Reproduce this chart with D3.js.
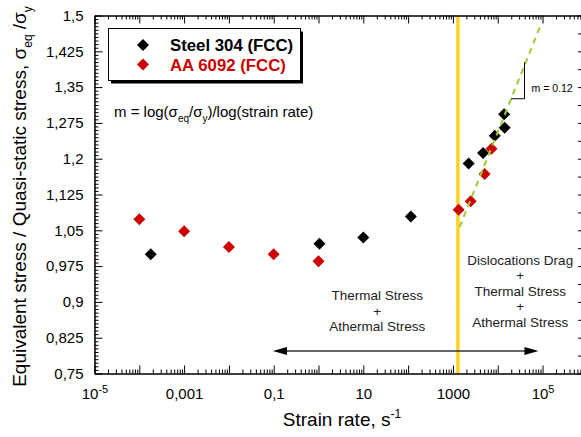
<!DOCTYPE html>
<html><head><meta charset="utf-8">
<script src="https://cdn.jsdelivr.net/npm/d3@7"></script>
<style>
body{margin:0;background:#fff}
svg{display:block;font-family:"Liberation Sans",Arial,sans-serif}
</style></head>
<body><svg id="c" width="581" height="437"></svg>
<script>
// ---- data ----
const steelRate  = [1.8e-4, 1.05, 10, 115, 2240, 4700, 8570, 13900, 14300];
const steelRatio = [1.000, 1.022, 1.035, 1.079, 1.190, 1.212, 1.248, 1.293, 1.265];
const alRate  = [1e-4, 1e-3, 1e-2, 0.1, 1, 1340, 2490, 5100, 7250];
const alRatio = [1.073, 1.048, 1.015, 1.000, 0.985, 1.093, 1.111, 1.168, 1.221];
const fitRate  = [1410, 87000];
const fitRatio = [1.0565, 1.4755];
const transitionRate = 1290;
const yTickValues = [0.75, 0.825, 0.9, 0.975, 1.05, 1.125, 1.2, 1.275, 1.35, 1.425, 1.5];
const xTickValues = [1e-5, 1e-3, 1e-1, 10, 1000, 1e5];
const xTickLabels = ["10|-5", "0,001", "0,1", "10", "1000", "10|5"];
const seriesNames = ["Steel 304 (FCC)", "AA 6092 (FCC)"];
const seriesColors = ["#000000", "#CC0000"];

// ---- layout ----
const L = 94.5, R = 582, T = 15.5, B = 373.5;
const svg = d3.select("#c");
const x = d3.scaleLog().domain([1e-5, 7.6e5]).range([L, R]);
const y = d3.scaleLinear().domain([0.75, 1.5]).range([B, T]);

// minor tick positions
const xMajor = d3.range(-5, 6).map(e => Math.pow(10, e));
const xMinor = [];
for (let e = -5; e <= 5; e++) for (let m = 2; m <= 9; m++) { const v = m * Math.pow(10, e); if (v <= 7.6e5) xMinor.push(v); }
const yMinor = d3.range(0, 101).map(i => 0.75 + i * 0.0075).filter((v, i) => i % 10 !== 0);

// yellow transition line
svg.append("line")
  .attr("x1", x(transitionRate)).attr("x2", x(transitionRate))
  .attr("y1", T).attr("y2", B)
  .attr("stroke", "#FFD21F").attr("stroke-width", 3.5);

// axes
const fmtY = v => String(+v.toFixed(3)).replace(".", ",");
const gB = svg.append("g").attr("transform", `translate(0,${B})`)
  .call(d3.axisBottom(x).tickValues(xMajor).tickSizeInner(-8).tickSizeOuter(0).tickPadding(15)
    .tickFormat(d => { const i = xTickValues.findIndex(v => Math.abs(Math.log10(v) - Math.log10(d)) < 1e-6); return i >= 0 ? xTickLabels[i] : ""; }));
svg.append("g").attr("transform", `translate(0,${B})`)
  .call(d3.axisBottom(x).tickValues(xMinor).tickSizeInner(-4).tickSizeOuter(0).tickFormat(""));
svg.append("g").attr("transform", `translate(0,${T})`)
  .call(d3.axisTop(x).tickValues(xMajor).tickSizeInner(-8).tickSizeOuter(0).tickFormat(""));
svg.append("g").attr("transform", `translate(0,${T})`)
  .call(d3.axisTop(x).tickValues(xMinor).tickSizeInner(-4).tickSizeOuter(0).tickFormat(""));
svg.append("g").attr("transform", `translate(${L},0)`)
  .call(d3.axisLeft(y).tickValues(yTickValues).tickSizeInner(-8).tickSizeOuter(0).tickPadding(11).tickFormat(fmtY));
svg.append("g").attr("transform", `translate(${L},0)`)
  .call(d3.axisLeft(y).tickValues(yMinor).tickSizeInner(-4).tickSizeOuter(0).tickFormat(""));
svg.append("g").attr("transform", `translate(${R},0)`)
  .call(d3.axisRight(y).tickValues(d3.range(0, 21).map(i => 0.75 + i * 0.0375)).tickSizeInner(-4).tickSizeOuter(0).tickFormat(""));

svg.selectAll(".tick text").attr("font-family", "Liberation Sans, Arial, sans-serif").attr("font-size", 15).attr("fill", "#000");
svg.selectAll(".domain, .tick line").attr("stroke", "#000").attr("stroke-width", 1);

// superscript x labels
gB.selectAll(".tick text").each(function() {
  const t = d3.select(this), s = t.text();
  if (s.includes("|")) {
    const [b, e] = s.split("|");
    t.text(null);
    t.append("tspan").text(b);
    t.append("tspan").attr("dy", "-0.55em").attr("font-size", 11).text(e);
  }
});

// points
const diamond = d3.symbol(d3.symbolSquare, 72);
const steel = steelRate.map((r, i) => [r, steelRatio[i]]);
const al = alRate.map((r, i) => [r, alRatio[i]]);
svg.append("g").selectAll("path").data(steel).join("path")
  .attr("d", diamond).attr("fill", seriesColors[0])
  .attr("transform", d => `translate(${x(d[0])},${y(d[1])}) rotate(45)`);
svg.append("g").selectAll("path").data(al).join("path")
  .attr("d", diamond).attr("fill", seriesColors[1])
  .attr("transform", d => `translate(${x(d[0])},${y(d[1])}) rotate(45)`);

// fit line
svg.append("path")
  .datum(fitRate.map((r, i) => [r, fitRatio[i]]))
  .attr("d", d3.line().x(d => x(d[0])).y(d => y(d[1])))
  .attr("fill", "none").attr("stroke", "#9ACD32").attr("stroke-width", 2).attr("stroke-dasharray", "6,5");

// slope triangle
svg.append("path")
  .attr("d", `M${x(19700)},${y(1.3256)}H${x(39600)}V${y(1.402)}`)
  .attr("fill", "none").attr("stroke", "#000").attr("stroke-width", 1);
svg.append("text").attr("x", x(39600) + 7).attr("y", y(1.3256) - 7)
  .attr("font-size", 10.5).text("m = 0.12");

// legend
const lg = svg.append("g");
lg.append("rect").attr("x", 111).attr("y", 31.5).attr("width", 192).attr("height", 52).attr("fill", "#000");
lg.append("rect").attr("x", 108.5).attr("y", 28.5).attr("width", 192).attr("height", 52).attr("fill", "#fff").attr("stroke", "#000");
seriesNames.forEach((n, i) => {
  lg.append("path").attr("d", diamond).attr("fill", seriesColors[i])
    .attr("transform", `translate(143,${45 + i * 19.5}) rotate(45)`);
  lg.append("text").attr("x", 170).attr("y", 51 + i * 19.5)
    .attr("font-size", 16.8).attr("font-weight", "bold").attr("fill", seriesColors[i]).text(n);
});

// formula
const f = svg.append("text").attr("x", 114).attr("y", 117).attr("font-size", 15);
f.append("tspan").text("m = log(σ");
f.append("tspan").attr("dy", 5).attr("font-size", 10).text("eq");
f.append("tspan").attr("dy", -5).text("/σ");
f.append("tspan").attr("dy", 5).attr("font-size", 10).text("y");
f.append("tspan").attr("dy", -5).text(")/log(strain rate)");

// annotations
function block(cx, y0, lines) {
  const t = svg.append("text").attr("text-anchor", "middle").attr("font-size", 13.5).attr("fill", "#222");
  lines.forEach((s, i) => t.append("tspan").attr("x", cx).attr("y", y0 + i * 15.6).text(s));
}
block(x(20.5), 300, ["Thermal Stress", "+", "Athermal Stress"]);
block(x(31800), 264.5, ["Dislocations Drag", "+", "Thermal Stress", "+", "Athermal Stress"]);

// double arrow
const ay = y(0.797), ax1 = x(0.096), ax2 = x(81000);
svg.append("line").attr("x1", ax1 + 10).attr("x2", ax2 - 10).attr("y1", ay).attr("y2", ay)
  .attr("stroke", "#333").attr("stroke-width", 1.5);
svg.append("path").attr("d", `M${ax1},${ay}l14,-4v8z`).attr("fill", "#000");
svg.append("path").attr("d", `M${ax2},${ay}l-14,-4v8z`).attr("fill", "#000");

// axis titles
const xt = svg.append("text").attr("x", 342).attr("y", 426).attr("text-anchor", "middle").attr("font-size", 19);
xt.append("tspan").text("Strain rate, s");
xt.append("tspan").attr("dy", -8).attr("font-size", 12).text("-1");

const yt = svg.append("text").attr("transform", `translate(26,${(T + B) / 2 + 2}) rotate(-90)`)
  .attr("text-anchor", "middle").attr("font-size", 19);
yt.append("tspan").text("Equivalent stress / Quasi-static stress, σ");
yt.append("tspan").attr("dy", 6).attr("font-size", 12).text("eq");
yt.append("tspan").attr("dy", -6).text(" /σ");
yt.append("tspan").attr("dy", 6).attr("font-size", 12).text("y");
</script></body></html>
